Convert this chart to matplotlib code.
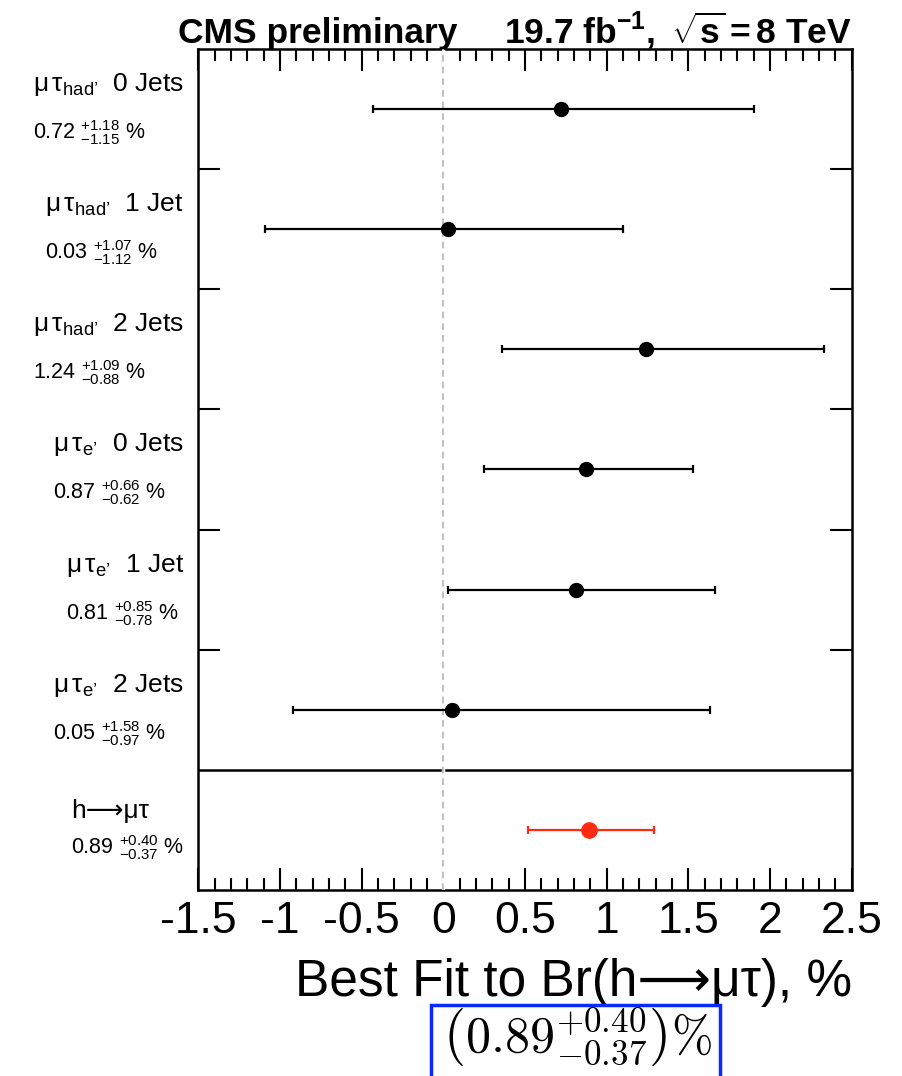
import numpy as np
import matplotlib.pyplot as plt
from matplotlib.patches import Rectangle
from matplotlib.ticker import MultipleLocator
from matplotlib.transforms import blended_transform_factory

plt.rcParams['font.family'] = ['Liberation Sans', 'DejaVu Sans']
plt.rcParams['mathtext.fontset'] = 'custom'
plt.rcParams['mathtext.rm'] = 'Liberation Sans'
plt.rcParams['mathtext.it'] = 'Liberation Sans:italic'
plt.rcParams['mathtext.bf'] = 'Liberation Sans:bold'

# best fit values of Br(h->mu tau) in % per category, top to bottom
channels = [r"$\mathregular{μ\,τ_{had’}\ }$ 0 Jets", r"$\mathregular{μ\,τ_{had’}\ }$ 1 Jet",
            r"$\mathregular{μ\,τ_{had’}\ }$ 2 Jets", r"$\mathregular{μ\,τ_{e’}\ }$ 0 Jets",
            r"$\mathregular{μ\,τ_{e’}\ }$ 1 Jet", r"$\mathregular{μ\,τ_{e’}\ }$ 2 Jets",
            "h⟶μτ"]
best = [0.72, 0.03, 1.24, 0.87, 0.81, 0.05, 0.89]
err_up = [1.18, 1.07, 1.09, 0.66, 0.85, 1.58, 0.40]
err_dn = [1.15, 1.12, 0.88, 0.62, 0.78, 0.97, 0.37]

n = len(best)
ypos = np.arange(n)[::-1] + 0.5

fig = plt.figure(figsize=(9.03, 10.76), dpi=100)
ax = fig.add_axes([0.2198, 0.1729, 0.7234, 0.7816])
ax.set_xlim(-1.5, 2.5)
ax.set_ylim(0, n)

# zero line (white underneath so it cuts through ticks and frame)
ax.axvline(0, color='white', lw=2.5, zorder=3)
ax.axvline(0, color='#b5b5b5', lw=1.2, ls=(0, (4, 3)), zorder=3.1)
ax.axhline(1, color='black', lw=1.8, zorder=2.4)

for i in range(n):
    col = '#ff2a10' if i == n - 1 else 'black'
    ms = 11 if i == n - 1 else 10
    ax.errorbar(best[i], ypos[i], xerr=[[err_dn[i]], [err_up[i]]], fmt='o',
                color=col, ms=ms, lw=1.6, capsize=3, capthick=1.6, zorder=5)

ax.xaxis.set_minor_locator(MultipleLocator(0.1))
ax.set_xticks(np.arange(-1.5, 2.51, 0.5))
ax.set_xticklabels(['%g' % v for v in np.arange(-1.5, 2.51, 0.5)])
ax.tick_params(axis='x', which='major', direction='in', length=16, width=1.5,
               top=True, bottom=True, labelsize=32, pad=8)
ax.tick_params(axis='x', which='minor', direction='in', length=8.5, width=1.5,
               top=True, bottom=True)
ax.set_yticks(np.arange(2, n))
ax.tick_params(axis='y', which='major', direction='in', length=16, width=1.5,
               left=True, right=True, labelleft=False)
for sp in ax.spines.values():
    sp.set_linewidth(1.8)

ax.set_xlabel("Best Fit to Br(h⟶μτ), %", fontsize=37, ha='right', va='baseline')
ax.xaxis.set_label_coords(1.0, -106 / 841)

ax.text(-0.031, 1.007, "CMS preliminary", transform=ax.transAxes, fontsize=25.5,
        fontweight='bold', ha='left', va='baseline')
ax.text(1.0, 1.007, r"$\mathregular{19.7\ fb^{-1},\ \sqrt{s}=8\ TeV}$",
        transform=ax.transAxes, fontsize=25.5, fontweight='bold', ha='right',
        va='baseline')

# two-line category labels: block right-aligned next to the frame, lines left-aligned
trans = blended_transform_factory(ax.transAxes, ax.transData)
labels = []
for i in range(n):
    val = ("$\\mathregular{%.2f\\ {}^{+%.2f}_{-%.2f}\\ \\%%}$"
           % (best[i], err_up[i], err_dn[i]))
    if i == n - 1:
        d1, d2 = 0.10, -0.20
    else:
        d1, d2 = 0.15, -0.25
    t1 = ax.text(0, ypos[i] + d1, channels[i], transform=trans, fontsize=19,
                 ha='left', va='baseline')
    t2 = ax.text(0, ypos[i] + d2, val, transform=trans, fontsize=15.5,
                 ha='left', va='baseline')
    labels.append((t1, t2))

fig.canvas.draw()
renderer = fig.canvas.get_renderer()
ax_w = ax.get_window_extent(renderer).width
anchor = -14.5 / 653.2
for t1, t2 in labels:
    w = max(t1.get_window_extent(renderer).width, t2.get_window_extent(renderer).width)
    x0 = anchor - w / ax_w
    t1.set_x(x0)
    t2.set_x(x0)

# combined result in a box below the axis title
formula = (r"$\left(%.2f^{+%.2f}_{-%.2f}\right)\%%$"
           % (best[-1], err_up[-1], err_dn[-1]))
fig.add_artist(Rectangle((431 / 903, -0.05), 289 / 903, 0.05 + 71 / 1076,
                         transform=fig.transFigure, fill=False,
                         ec='#0a28ff', lw=2.5))
fig.text(577 / 903, 1 - 1053 / 1076, formula, math_fontfamily='cm', fontsize=36,
         ha='center', va='baseline')

fig.savefig('out.png', dpi=100)
